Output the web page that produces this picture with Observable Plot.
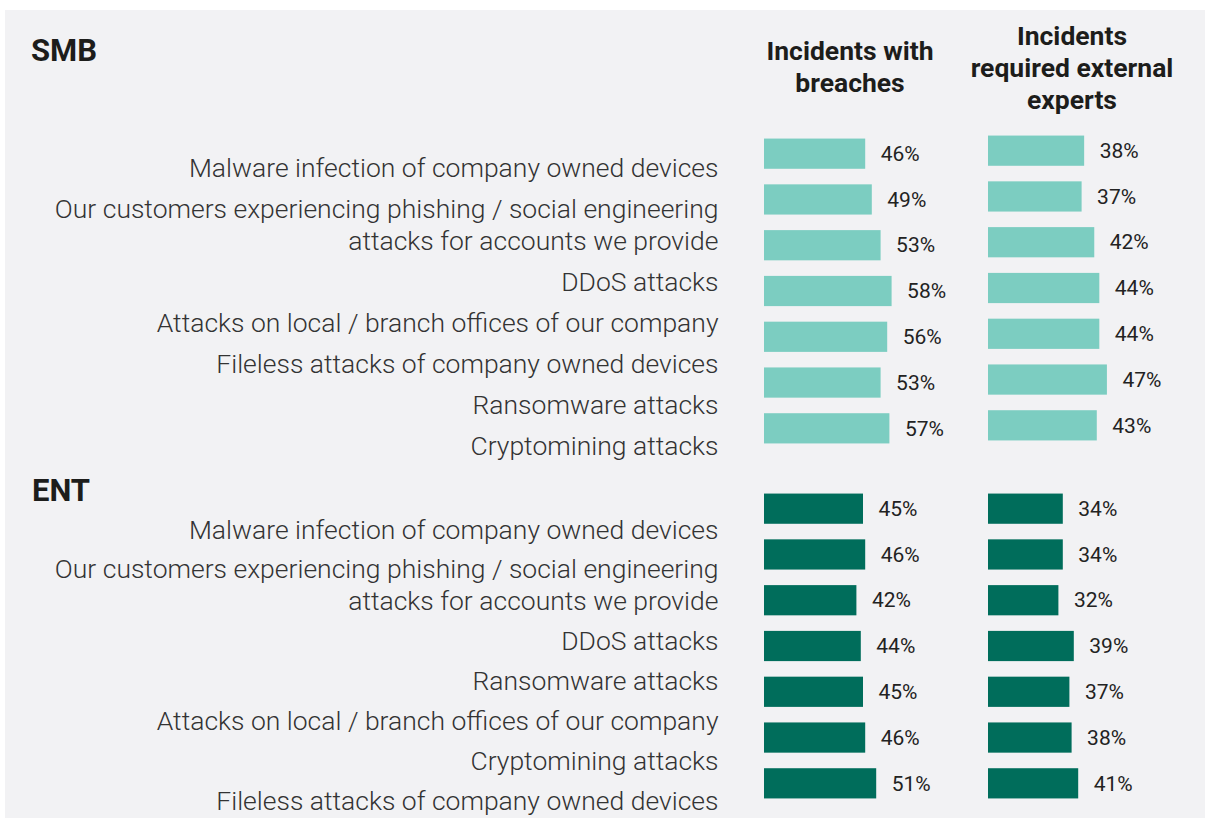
<!DOCTYPE html>
<html>
<head>
<meta charset="utf-8">
<script src="https://cdn.jsdelivr.net/npm/d3@7"></script>
<script src="https://cdn.jsdelivr.net/npm/@observablehq/plot@0.6"></script>
<style>
  html, body { margin: 0; padding: 0; background: #ffffff; }
  #root { position: relative; width: 1205px; height: 818px; overflow: hidden; background: #ffffff; }
  #panel { position: absolute; left: 5px; top: 10px; width: 1200px; height: 808px; background: #f2f2f4; }
  .abs { position: absolute; }
  .abs svg, svg.plot { background: transparent !important; max-width: none !important; overflow: visible; }
  .group { font-family: Roboto, "Liberation Sans", sans-serif; font-weight: 700; font-size: 31px; line-height: 1; color: #1d1d1b; }
  .colhead { font-family: Roboto, "Liberation Sans", sans-serif; font-weight: 700; font-size: 26.5px; line-height: 32px; color: #1d1d1b; text-align: center; width: 260px; }
</style>
</head>
<body>
<div id="root">
  <div id="panel"></div>
  <div class="abs group" style="left:31px; top:35px;">SMB</div>
  <div class="abs group" style="left:32px; top:475px;">ENT</div>
  <div class="abs colhead" style="left:720px; top:35px;">Incidents with<br>breaches</div>
  <div class="abs colhead" style="left:942px; top:20px;">Incidents<br>required external<br>experts</div>
</div>
<script>
// ---- Data ----
const smbLabels = [
  "Malware infection of company owned devices",
  "Our customers experiencing phishing / social engineering\nattacks for accounts we provide",
  "DDoS attacks",
  "Attacks on local / branch offices of our company",
  "Fileless attacks of company owned devices",
  "Ransomware attacks",
  "Cryptomining attacks"
];
const smbBreaches = [46, 49, 53, 58, 56, 53, 57];
const smbExternal = [38, 37, 42, 44, 44, 47, 43];

const entLabels = [
  "Malware infection of company owned devices",
  "Our customers experiencing phishing / social engineering\nattacks for accounts we provide",
  "DDoS attacks",
  "Ransomware attacks",
  "Attacks on local / branch offices of our company",
  "Cryptomining attacks",
  "Fileless attacks of company owned devices"
];
const entBreaches = [45, 46, 42, 44, 45, 46, 51];
const entExternal = [34, 34, 32, 39, 37, 38, 41];

const lightColor = "#7ccdc1";
const darkColor = "#006d5b";

// ---- Helpers ----
const root = document.getElementById("root");
function place(node, left, top) {
  const wrap = document.createElement("div");
  wrap.className = "abs";
  wrap.style.left = left + "px";
  wrap.style.top = top + "px";
  wrap.appendChild(node);
  root.appendChild(wrap);
}

const labelFont = 26.5;
const lineStep = 32, paraGap = 9;
function labelPlot(labels, yRange) {
  let acc = 0;
  const rows = labels.map(label => {
    const n = label.split("\n").length;
    const pos = acc + (n - 1) * lineStep / 2;
    acc += n * lineStep + paraGap;
    return {label, pos};
  });
  const maxPos = rows[rows.length - 1].pos;
  return Plot.plot({
    width: 740, height: 818,
    marginLeft: 0, marginTop: 0, marginBottom: 0, marginRight: 22,
    style: {background: "transparent", overflow: "visible"},
    y: {type: "linear", domain: [0, maxPos], range: yRange, axis: null},
    marks: [
      Plot.text(rows, {
        y: "pos", text: "label", frameAnchor: "right", textAnchor: "end",
        lineAnchor: "middle", lineHeight: lineStep / labelFont,
        fontSize: labelFont, fontWeight: 300, fill: "#333333",
        fontFamily: "Roboto, 'Liberation Sans', sans-serif"
      })
    ]
  });
}

function barPlot(labels, values, color, pxPerUnit) {
  const data = labels.map((label, i) => ({label, value: values[i]}));
  return Plot.plot({
    width: 300, height: 336,
    marginLeft: 0, marginRight: 0, marginTop: 0, marginBottom: 0,
    style: {background: "transparent", overflow: "visible"},
    x: {domain: [0, 100], range: [0, 100 * pxPerUnit], axis: null},
    y: {domain: labels, padding: 0.34, round: false, axis: null},
    marks: [
      Plot.barX(data, {x: "value", y: "label", fill: color}),
      Plot.text(data, {
        x: "value", y: "label", text: d => d.value + "%", dx: 15, textAnchor: "start",
        fontSize: 21, fill: "#222222", fontFamily: "Roboto, 'Liberation Sans', sans-serif"
      })
    ]
  });
}

// ---- Labels ----
place(labelPlot(smbLabels, [166, 444]), 0, 0);
place(labelPlot(entLabels, [528, 799]), 0, 0);

// ---- Bars ----
place(barPlot(smbLabels, smbBreaches, lightColor, 2.2), 764, 122.5);
place(barPlot(smbLabels, smbExternal, lightColor, 2.53), 988, 119.5);
place(barPlot(entLabels, entBreaches, darkColor, 2.2), 764, 477.5);
place(barPlot(entLabels, entExternal, darkColor, 2.2), 988, 477.5);
</script>
</body>
</html>
